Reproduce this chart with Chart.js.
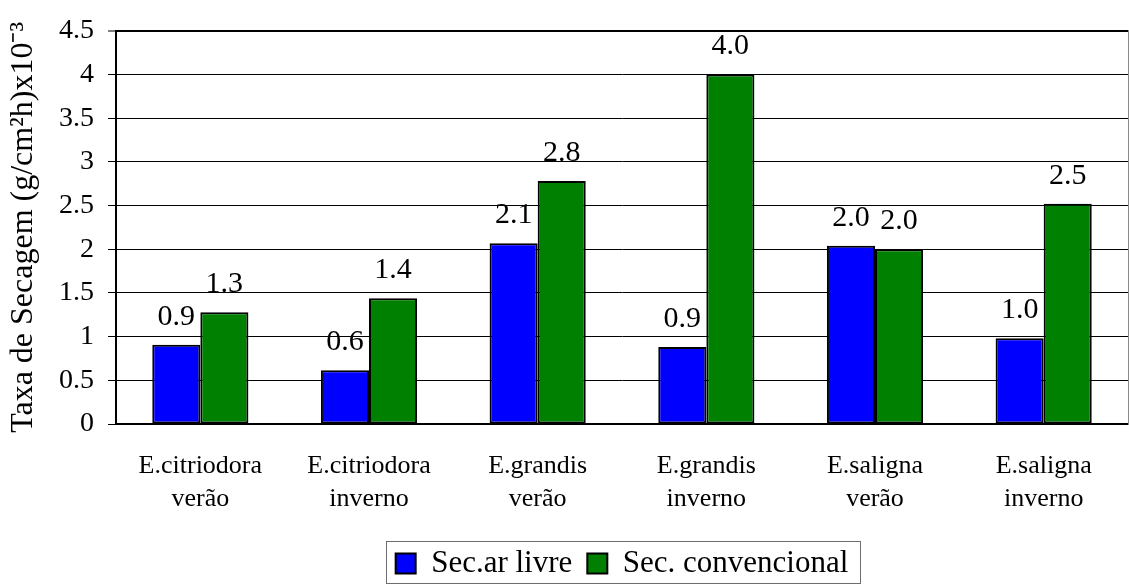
<!DOCTYPE html>
<html>
<head>
<meta charset="utf-8">
<script src="https://cdn.jsdelivr.net/npm/chart.js@4/dist/chart.umd.min.js"></script>
<style>
  html, body { margin: 0; padding: 0; background: #ffffff; }
  #wrap { width: 1129px; height: 584px; }
</style>
</head>
<body>
<div id="wrap"><canvas id="c" width="1129" height="584"></canvas></div>
<script>
// Drying rate per species and season
const categories = [
  ['E.citriodora', 'verão'],
  ['E.citriodora', 'inverno'],
  ['E.grandis', 'verão'],
  ['E.grandis', 'inverno'],
  ['E.saligna', 'verão'],
  ['E.saligna', 'inverno']
];
const seriesNames = ['Sec.ar livre', 'Sec. convencional'];
const arLivre = [0.906, 0.614, 2.07, 0.88, 2.04, 0.98];
const convencional = [1.28, 1.44, 2.78, 4.00, 2.00, 2.52];
const yTickLabels = ['0', '0.5', '1', '1.5', '2', '2.5', '3', '3.5', '4', '4.5'];
const yTitle = 'Taxa de Secagem (g/cm²h)x10⁻³';

const FONT = "'Liberation Serif', 'Times New Roman', serif";

// Value labels above each bar
const valueLabels = {
  id: 'valueLabels',
  afterDatasetsDraw(chart) {
    const ctx = chart.ctx;
    ctx.save();
    ctx.font = '30px ' + FONT;
    ctx.fillStyle = '#000';
    ctx.textAlign = 'center';
    ctx.textBaseline = 'alphabetic';
    chart.data.datasets.forEach((ds, di) => {
      const meta = chart.getDatasetMeta(di);
      meta.data.forEach((bar, i) => {
        ctx.fillText(ds.data[i].toFixed(1), bar.x, bar.y - 20);
      });
    });
    ctx.restore();
  }
};

// Frame around the legend items
const legendFrame = {
  id: 'legendFrame',
  afterDraw(chart) {
    const hb = chart.legend && chart.legend.legendHitBoxes;
    if (!hb || !hb.length) return;
    const first = hb[0], last = hb[hb.length - 1];
    const left = Math.round(first.left - 10) + 0.5;
    const right = Math.round(last.left + last.width + 12) + 0.5;
    const top = Math.round(first.top + first.height / 2 - 23) + 0.5;
    const bottom = 583.5;
    const ctx = chart.ctx;
    ctx.save();
    ctx.strokeStyle = '#6e6e6e';
    ctx.lineWidth = 1;
    ctx.strokeRect(left, top, right - left, bottom - top);
    ctx.restore();
  }
};

new Chart(document.getElementById('c'), {
  type: 'bar',
  data: {
    labels: categories,
    datasets: [
      {
        label: seriesNames[0],
        data: arLivre,
        backgroundColor: '#0000ff',
        borderColor: '#000000',
        borderWidth: 2,
        borderSkipped: false,
        categoryPercentage: 0.57,
        barPercentage: 1.0
      },
      {
        label: seriesNames[1],
        data: convencional,
        backgroundColor: '#008000',
        borderColor: '#000000',
        borderWidth: 2,
        borderSkipped: false,
        categoryPercentage: 0.57,
        barPercentage: 1.0
      }
    ]
  },
  options: {
    responsive: false,
    animation: false,
    devicePixelRatio: 1,
    layout: { padding: { top: 23, right: 1, bottom: 0, left: 0 } },
    plugins: {
      tooltip: { enabled: false },
      title: { display: false },
      legend: {
        display: true,
        position: 'bottom',
        fullSize: false,
        maxHeight: 51,
        labels: {
          font: { family: FONT, size: 31 },
          color: '#000',
          boxWidth: 20,
          boxHeight: 20,
          padding: 15
        }
      }
    },
    scales: {
      x: {
        grid: { display: false, drawTicks: false },
        border: { display: true, color: '#000', width: 2 },
        ticks: {
          color: '#000',
          font: { family: FONT, size: 26, lineHeight: 1.27 },
          padding: 26,
          maxRotation: 0,
          autoSkip: false
        },
        afterFit(s) { s.height = 109; }
      },
      y: {
        min: 0,
        max: 4.5,
        position: 'left',
        afterBuildTicks(s) {
          s.ticks = yTickLabels.map(t => ({ value: parseFloat(t) }));
        },
        ticks: {
          color: '#000',
          font: { family: FONT, size: 28 },
          padding: 14,
          callback: (v, i) => yTickLabels[i]
        },
        grid: {
          color: '#000',
          lineWidth: c => (c.tick && c.tick.value === 4.5 ? 2 : 1),
          drawTicks: true,
          tickLength: 8,
          tickColor: '#000',
          tickWidth: 1
        },
        border: { display: true, color: '#000', width: 2 },
        title: {
          display: true,
          text: yTitle,
          color: '#000',
          font: { family: FONT, size: 32 },
          padding: { top: 4, bottom: 0 }
        },
        afterFit(s) { s.width = 116; }
      },
      yRight: {
        position: 'right',
        min: 0,
        max: 4.5,
        grid: { display: false, drawTicks: false },
        ticks: { display: false },
        border: { display: true, color: '#8a8a8a', width: 1 },
        afterFit(s) { s.width = 0; }
      }
    }
  },
  plugins: [valueLabels, legendFrame]
});
</script>
</body>
</html>
